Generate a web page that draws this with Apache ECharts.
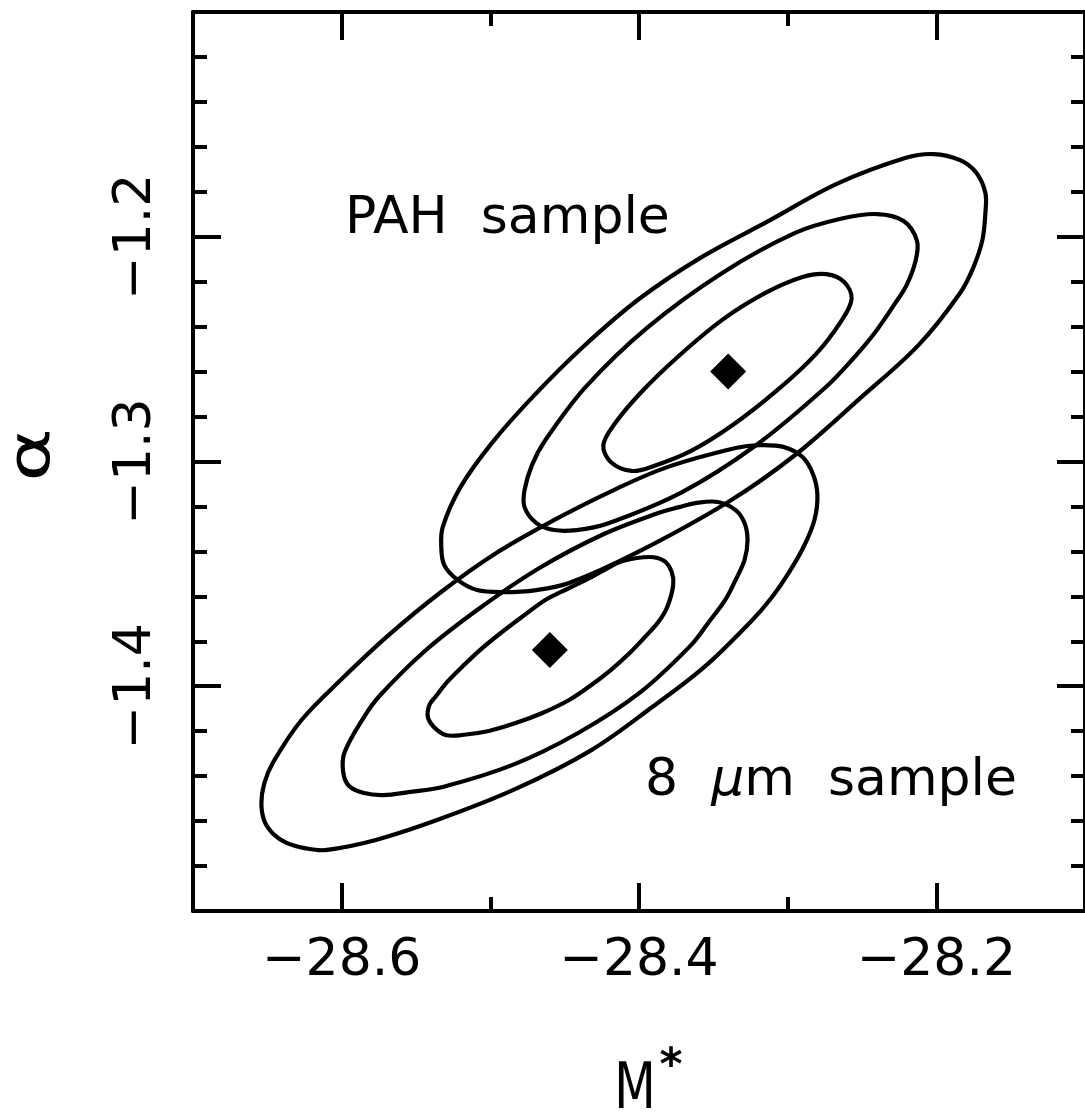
<!DOCTYPE html>
<html><head><meta charset="utf-8">
<script src="https://cdn.jsdelivr.net/npm/echarts@6/dist/echarts.min.js"></script>
<style>html,body{margin:0;padding:0;background:#fff}#c{width:1085px;height:1116px}</style>
</head><body><div id="c"></div>
<script>
// ---- tick values ----
const xMajorTicks = [-28.6, -28.4, -28.2];
const xMinorTicks = [-28.7, -28.6, -28.5, -28.4, -28.3, -28.2, -28.1];
const yTickLabels = [-1.4, -1.3, -1.2];

// ---- best-fit points [M*, alpha] ----
const bestFit = [[-28.340, -1.2600], [-28.460, -1.3839]];

// ---- confidence contours [M*, alpha] ----
const pahOuter = [
  [-28.202,-1.1632],[-28.184,-1.1659],[-28.173,-1.1716],[-28.167,-1.1805],[-28.167,-1.1894],
  [-28.169,-1.2014],[-28.175,-1.2135],[-28.184,-1.2250],[-28.212,-1.2482],[-28.251,-1.2717],
  [-28.295,-1.2971],[-28.340,-1.3180],[-28.402,-1.3407],[-28.447,-1.3541],[-28.469,-1.3572],
  [-28.491,-1.3581],[-28.509,-1.3572],[-28.522,-1.3527],[-28.531,-1.3461],[-28.533,-1.3380],
  [-28.532,-1.3291],[-28.520,-1.3113],[-28.499,-1.2918],[-28.471,-1.2709],[-28.437,-1.2486],
  [-28.400,-1.2277],[-28.359,-1.2095],[-28.314,-1.1934],[-28.267,-1.1765],[-28.221,-1.1650]
];
const pahMid = [
  [-28.240,-1.1899],[-28.222,-1.1930],[-28.213,-1.2019],[-28.214,-1.2108],[-28.220,-1.2215],
  [-28.228,-1.2299],[-28.241,-1.2424],[-28.255,-1.2535],[-28.275,-1.2673],[-28.322,-1.2931],
  [-28.371,-1.3136],[-28.422,-1.3278],[-28.442,-1.3305],[-28.457,-1.3305],[-28.469,-1.3274],
  [-28.477,-1.3203],[-28.477,-1.3127],[-28.472,-1.3016],[-28.463,-1.2905],[-28.436,-1.2669],
  [-28.394,-1.2402],[-28.344,-1.2161],[-28.295,-1.1983],[-28.265,-1.1921]
];
const pahInner = [
  [-28.290,-1.2179],[-28.274,-1.2166],[-28.262,-1.2201],[-28.257,-1.2277],[-28.264,-1.2375],
  [-28.281,-1.2522],[-28.306,-1.2677],[-28.336,-1.2833],[-28.365,-1.2953],[-28.390,-1.3020],
  [-28.405,-1.3042],[-28.419,-1.3002],[-28.424,-1.2927],[-28.416,-1.2829],[-28.399,-1.2695],
  [-28.374,-1.2535],[-28.344,-1.2370],[-28.315,-1.2250]
];
const um8Outer = [
  [-28.319,-1.2927],[-28.303,-1.2935],[-28.290,-1.2980],[-28.283,-1.3056],[-28.280,-1.3149],
  [-28.282,-1.3260],[-28.289,-1.3376],[-28.299,-1.3492],[-28.311,-1.3607],[-28.325,-1.3714],
  [-28.356,-1.3914],[-28.392,-1.4097],[-28.432,-1.4284],[-28.483,-1.4457],[-28.534,-1.4591],
  [-28.577,-1.4684],[-28.611,-1.4729],[-28.625,-1.4720],[-28.637,-1.4697],[-28.646,-1.4657],
  [-28.652,-1.4600],[-28.654,-1.4520],[-28.652,-1.4431],[-28.646,-1.4337],[-28.627,-1.4150],
  [-28.600,-1.3968],[-28.569,-1.3776],[-28.534,-1.3585],[-28.496,-1.3407],[-28.457,-1.3260],
  [-28.417,-1.3127],[-28.381,-1.3025],[-28.335,-1.2940]
];
const um8Mid = [
  [-28.362,-1.3185],[-28.347,-1.3180],[-28.335,-1.3216],[-28.329,-1.3274],[-28.327,-1.3349],
  [-28.329,-1.3438],[-28.335,-1.3527],[-28.342,-1.3616],[-28.353,-1.3714],[-28.365,-1.3817],
  [-28.399,-1.4026],[-28.441,-1.4208],[-28.485,-1.4350],[-28.532,-1.4448],[-28.555,-1.4471],
  [-28.572,-1.4484],[-28.585,-1.4475],[-28.595,-1.4444],[-28.599,-1.4382],[-28.598,-1.4293],
  [-28.585,-1.4137],[-28.574,-1.4039],[-28.544,-1.3843],[-28.507,-1.3652],[-28.467,-1.3474],
  [-28.425,-1.3327],[-28.389,-1.3234],[-28.373,-1.3203]
];
const um8Inner = [
  [-28.411,-1.3443],[-28.393,-1.3425],[-28.383,-1.3443],[-28.378,-1.3492],[-28.377,-1.3550],
  [-28.381,-1.3647],[-28.387,-1.3714],[-28.396,-1.3781],[-28.407,-1.3857],[-28.419,-1.3928],
  [-28.433,-1.3999],[-28.447,-1.4061],[-28.465,-1.4119],[-28.483,-1.4164],[-28.501,-1.4199],
  [-28.519,-1.4217],[-28.530,-1.4217],[-28.538,-1.4181],[-28.542,-1.4137],[-28.541,-1.4083],
  [-28.537,-1.4048],[-28.529,-1.3981],[-28.519,-1.3914],[-28.507,-1.3839],[-28.493,-1.3763],
  [-28.478,-1.3688],[-28.463,-1.3616],[-28.447,-1.3563],[-28.432,-1.3514],[-28.421,-1.3474]
];
const contours = [pahOuter, pahMid, pahInner, um8Outer, um8Mid, um8Inner];

const FONT = 'DejaVu Sans';
const minus = v => (v < 0 ? '\u2212' : '') + Math.abs(v).toFixed(1);
const AX = { color: '#000', width: 4 };

function xAxisDef(pos, major, showLabel) {
  return {
    type: 'value', position: pos, min: -28.7, max: -28.1, interval: 0.1,
    axisLine: { show: !major, onZero: false, lineStyle: AX },
    splitLine: { show: false },
    axisTick: { show: true, inside: true, length: major ? 28 : 14, lineStyle: AX,
                customValues: major ? xMajorTicks : xMinorTicks },
    axisLabel: showLabel ? { show: true, customValues: xMajorTicks, formatter: minus,
                fontFamily: FONT, fontSize: 52, color: '#000', margin: 24 } : { show: false }
  };
}
function yAxisDef(pos, showLabel) {
  return {
    type: 'value', position: pos, min: -1.5, max: -1.1, interval: 0.1,
    axisLine: { show: true, onZero: false, lineStyle: AX },
    splitLine: { show: false },
    axisTick: { show: true, inside: true, length: 28, lineStyle: AX },
    minorTick: { show: true, splitNumber: 5, length: 14, lineStyle: AX },
    minorSplitLine: { show: false },
    axisLabel: showLabel ? { show: true, customValues: yTickLabels, formatter: minus, rotate: 90,
                fontFamily: FONT, fontSize: 52, color: '#000', margin: 31 } : { show: false }
  };
}

const chart = echarts.init(document.getElementById('c'), null, { renderer: 'canvas' });
chart.setOption({
  animation: false,
  backgroundColor: '#fff',
  grid: { left: 193, top: 12, width: 900, height: 899, containLabel: false },
  xAxis: [xAxisDef('bottom', false, false), xAxisDef('bottom', true, true),
          xAxisDef('top', false, false), xAxisDef('top', true, false)],
  yAxis: [yAxisDef('left', true), yAxisDef('right', false)],
  series: [
    {
      type: 'custom', xAxisIndex: 0, yAxisIndex: 0, silent: true, clip: false,
      data: contours.map((c, i) => [c[0][0], c[0][1], i]),
      renderItem: function (params, api) {
        const c = contours[params.dataIndex];
        return {
          type: 'polygon',
          shape: { points: c.map(p => api.coord(p)), smooth: 0.35 },
          style: { fill: 'none', stroke: '#000', lineWidth: 4.2, lineJoin: 'round' }
        };
      }
    },
    {
      type: 'scatter', xAxisIndex: 0, yAxisIndex: 0, silent: true,
      symbol: 'diamond', symbolSize: 36, itemStyle: { color: '#000', opacity: 1 },
      data: bestFit
    }
  ],
  graphic: [
    { type: 'text', x: 345, y: 219, style: { text: 'PAH  sample', font: '52px "DejaVu Sans"', fill: '#000', align: 'left', verticalAlign: 'middle' } },
    { type: 'text', x: 645, y: 781, style: { text: '8  {mu|\u03bc}m  sample', font: '52px "DejaVu Sans"', fill: '#000', align: 'left', verticalAlign: 'middle',
        rich: { mu: { fontFamily: 'DejaVu Sans', fontSize: 52, fontStyle: 'italic', fill: '#000' } } } },
    { type: 'text', x: 34, y: 455, rotation: Math.PI / 2, scaleX: 1.4, style: { text: '\u03b1', font: '58px "DejaVu Sans"', fill: '#000', align: 'center', verticalAlign: 'middle' } },
    { type: 'text', x: 635, y: 1091, scaleX: 0.75, style: { text: 'M', font: '64px "DejaVu Sans"', fill: '#000', align: 'center', verticalAlign: 'middle' } },
    { type: 'text', x: 671, y: 1068, style: { text: '*', font: 'bold 44px "DejaVu Sans"', fill: '#000', align: 'center', verticalAlign: 'middle' } }
  ]
});
</script></body></html>
